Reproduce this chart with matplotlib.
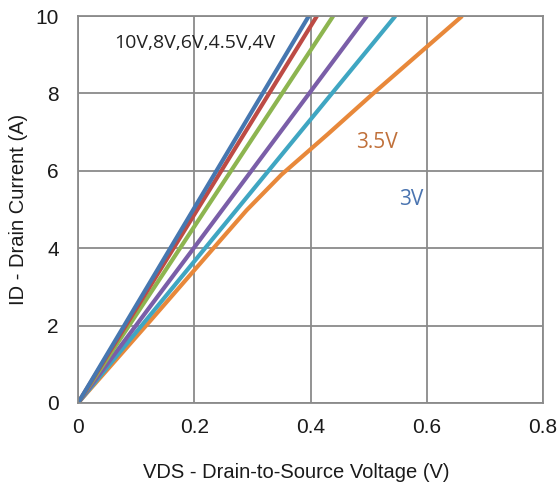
import matplotlib
matplotlib.use('Agg')
import matplotlib.pyplot as plt

# 데이터: 각 게이트 전압별 ID-VDS 곡선
vds_10v = [0, 0.2, 0.397]
id_10v = [0, 5.04, 10]
vds_8v = [0, 0.2, 0.411]
id_8v = [0, 4.87, 10]
vds_6v = [0, 0.2, 0.439]
id_6v = [0, 4.56, 10]
vds_45v = [0, 0.2, 0.497]
id_45v = [0, 4.02, 10]
vds_4v = [0, 0.2, 0.546]
id_4v = [0, 3.66, 10]
vds_35v = [0, 0.12, 0.233, 0.29, 0.35, 0.43, 0.508, 0.661]
id_35v = [0, 2.05, 4.0, 4.98, 5.9, 6.95, 8.0, 10]

x_ticks = [0, 0.2, 0.4, 0.6, 0.8]
y_ticks = [0, 2, 4, 6, 8, 10]

plt.rcParams['font.family'] = ['Liberation Sans', 'DejaVu Sans']

fig = plt.figure(figsize=(5.58, 4.86), dpi=100)
ax = fig.add_axes([0.14, 0.171, 0.833, 0.796])

lw = 3.0
ax.plot(vds_35v, id_35v, color='#E8883A', lw=lw, solid_capstyle='butt')
ax.plot(vds_4v, id_4v, color='#3FA6C2', lw=lw, solid_capstyle='butt')
ax.plot(vds_45v, id_45v, color='#7A5EA8', lw=lw, solid_capstyle='butt')
ax.plot(vds_6v, id_6v, color='#8DB550', lw=lw, solid_capstyle='butt')
ax.plot(vds_8v, id_8v, color='#BD4B45', lw=lw, solid_capstyle='butt')
ax.plot(vds_10v, id_10v, color='#4677B0', lw=lw, solid_capstyle='butt')

ax.set_xlim(0, 0.8)
ax.set_ylim(0, 10)
ax.set_xticks(x_ticks)
ax.set_xticklabels(['0', '0.2', '0.4', '0.6', '0.8'])
ax.set_yticks(y_ticks)
ax.grid(True, color='#8a8a8a', lw=1.3)
ax.set_axisbelow(True)
for s in ax.spines.values():
    s.set_color('#8a8a8a')
    s.set_linewidth(1.3)
ax.tick_params(length=0, labelsize=15, colors='#1a1a1a')
ax.tick_params(axis='x', pad=11)
ax.tick_params(axis='y', pad=14)

ax.set_xlabel('VDS - Drain-to-Source Voltage (V)', fontsize=14.5, color='#1a1a1a', labelpad=16)
ax.xaxis.set_label_coords(0.469, -0.155)
ax.set_ylabel('ID - Drain Current (A)', fontsize=14.5, color='#1a1a1a', labelpad=5)

ax.text(0.062, 9.3, '10V,8V,6V,4.5V,4V', fontsize=14, color='#222222',
        family=['Open Sans', 'DejaVu Sans'], va='center', ha='left')
ax.text(0.515, 6.73, '3.5V', fontsize=15, color='#C0703A',
        family=['Open Sans', 'DejaVu Sans'], va='center', ha='center')
ax.text(0.573, 5.26, '3V', fontsize=15, color='#4A74B0',
        family=['Open Sans', 'DejaVu Sans'], va='center', ha='center')

fig.savefig('out.png', dpi=100)
